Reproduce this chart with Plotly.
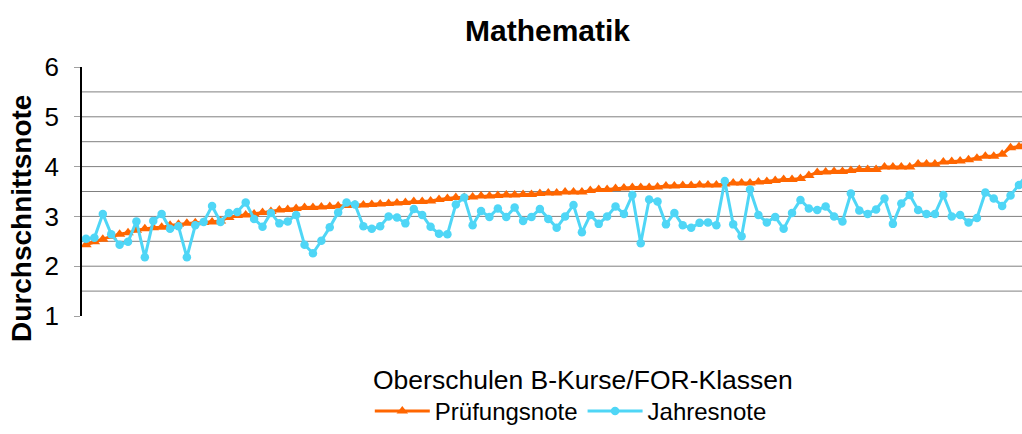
import plotly.graph_objects as go

# Schools ordered by exam grade (Oberschulen, B-Kurse/FOR-Klassen)
pruefungsnote = [
    2.43, 2.49, 2.54, 2.60, 2.64, 2.67, 2.72, 2.75, 2.77, 2.78, 2.82, 2.84, 2.86, 2.87, 2.88, 2.89, 2.91, 2.98, 3.02,
    3.03, 3.05, 3.08, 3.10, 3.13, 3.14, 3.16, 3.18, 3.18, 3.19, 3.20, 3.21, 3.22, 3.23, 3.23, 3.24, 3.25, 3.26,
    3.27, 3.28, 3.30, 3.30, 3.31, 3.34, 3.36, 3.38, 3.38, 3.39, 3.41, 3.41, 3.42, 3.43, 3.43, 3.44, 3.44, 3.46, 3.47,
    3.47, 3.49, 3.49, 3.49, 3.52, 3.54, 3.54, 3.56, 3.57, 3.58, 3.58, 3.58, 3.59, 3.61, 3.61, 3.62, 3.62, 3.63,
    3.63, 3.63, 3.65, 3.67, 3.67, 3.67, 3.69, 3.70, 3.72, 3.74, 3.74, 3.76, 3.82, 3.88, 3.89, 3.90, 3.90, 3.92, 3.94,
    3.94, 3.94, 3.99, 3.99, 3.99, 3.99, 4.05, 4.05, 4.05, 4.09, 4.10, 4.11, 4.14, 4.17, 4.21, 4.21, 4.25, 4.38, 4.40, 4.50,
]
jahresnote = [
    2.55, 2.57, 3.05, 2.64, 2.43, 2.49, 2.90, 2.18, 2.91, 3.05, 2.75, 2.80, 2.18, 2.82, 2.89, 3.21, 2.89, 3.07, 3.09,
    3.28, 2.95, 2.79, 3.07, 2.86, 2.90, 3.03, 2.43, 2.26, 2.51, 2.78, 3.08, 3.28, 3.24, 2.80, 2.75, 2.80, 3.00,
    2.98, 2.86, 3.15, 3.03, 2.79, 2.65, 2.64, 3.24, 3.38, 2.82, 3.11, 2.99, 3.16, 2.99, 3.18, 2.91, 2.99, 3.15, 2.95,
    2.77, 3.00, 3.23, 2.68, 3.03, 2.85, 3.00, 3.20, 3.05, 3.43, 2.46, 3.34, 3.30, 2.84, 3.07, 2.82, 2.77, 2.87,
    2.88, 2.82, 3.71, 2.84, 2.60, 3.54, 3.03, 2.88, 2.99, 2.75, 3.07, 3.33, 3.16, 3.13, 3.20, 3.00, 2.90, 3.46, 3.12,
    3.05, 3.14, 3.36, 2.85, 3.26, 3.43, 3.13, 3.05, 3.05, 3.43, 3.00, 3.03, 2.88, 2.97, 3.48, 3.36, 3.21, 3.42, 3.63, 3.85,
]
schulen = list(range(len(pruefungsnote)))

y_ticks = [1, 2, 3, 4, 5, 6]
y_grid = [1.5, 2, 2.5, 3, 3.5, 4, 4.5, 5, 5.5]

FONT = "Liberation Sans, Arial, sans-serif"
ORANGE = "#FF6600"
CYAN = "#4FD6F6"

fig = go.Figure()
fig.add_trace(go.Scatter(
    x=schulen, y=pruefungsnote, name="Prüfungsnote", mode="lines+markers",
    line=dict(color=ORANGE, width=3),
    marker=dict(symbol="triangle-up", size=10, color=ORANGE),
))
fig.add_trace(go.Scatter(
    x=schulen, y=jahresnote, name="Jahresnote", mode="lines+markers",
    line=dict(color=CYAN, width=3),
    marker=dict(symbol="circle", size=8.5, color=CYAN),
))

for g in y_grid:
    fig.add_shape(type="line", xref="paper", yref="y", x0=0, x1=1, y0=g, y1=g,
                  line=dict(color="#808080", width=1), layer="below")

fig.update_layout(
    width=1022, height=434,
    margin=dict(l=82, r=0, t=67, b=114),
    paper_bgcolor="white", plot_bgcolor="white",
    font=dict(family=FONT, color="black"),
    showlegend=True,
    legend=dict(orientation="h", x=0.52, xanchor="center", y=-0.383, yanchor="middle",
                font=dict(size=24, family=FONT), itemwidth=55, bgcolor="rgba(0,0,0,0)"),
    xaxis=dict(range=[-0.476, 111.36], showgrid=False, zeroline=False, showline=False,
               showticklabels=False, ticks=""),
    yaxis=dict(range=[1, 6], tickvals=y_ticks, ticks="outside", ticklen=6, tickcolor="#A0A0A0",
               showgrid=False, zeroline=False, showline=True, linecolor="black", linewidth=1.5,
               tickfont=dict(size=26, family=FONT), ticklabelstandoff=10),
    annotations=[
        dict(text="<b>Mathematik</b>", xref="paper", yref="paper", x=0.4957, y=1.146,
             xanchor="center", yanchor="middle", showarrow=False, font=dict(size=30, family=FONT)),
        dict(text="<b>Durchschnittsnote</b>", xref="paper", yref="paper", x=-0.0638, y=0.39,
             xanchor="center", yanchor="middle", textangle=-90, showarrow=False,
             font=dict(size=28, family=FONT)),
        dict(text="Oberschulen B-Kurse/FOR-Klassen", xref="paper", yref="paper", x=0.533, y=-0.257,
             xanchor="center", yanchor="middle", showarrow=False, font=dict(size=26.5, family=FONT)),
    ],
)

fig.write_html("out.html")
